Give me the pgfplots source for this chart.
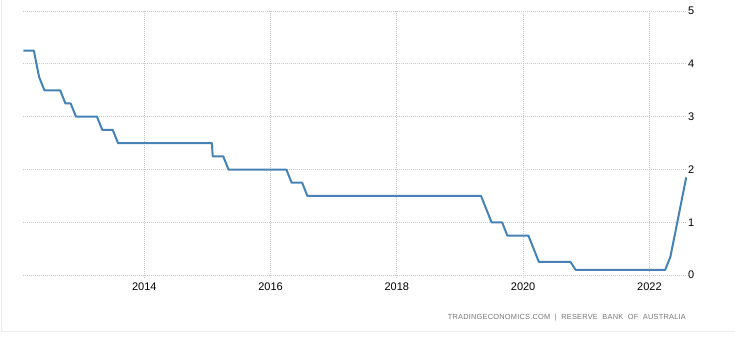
\documentclass[border=0pt]{standalone}
\usepackage{fontspec}
\setmainfont{Liberation Sans}
\newfontfamily\srcfont[LetterSpace=3]{Liberation Sans}
\usepackage{pgfplots}
\pgfplotsset{compat=1.18}
\definecolor{lineblue}{RGB}{70,130,180}
\definecolor{gridgray}{RGB}{200,200,200}
\definecolor{framegray}{RGB}{236,236,236}
\definecolor{srcgray}{RGB}{120,120,120}
\begin{document}
\begin{tikzpicture}
\useasboundingbox (0bp,0bp) rectangle (735bp,344bp);
\fill[white] (0bp,0bp) rectangle (735bp,344bp);
\draw[framegray, line width=1bp] (1bp,344bp) -- (1bp,12bp) -- (735bp,12bp);
\begin{axis}[
  at={(23bp,65.8bp)}, anchor=south west,
  scale only axis, width=663bp, height=267.2bp,
  xmin=2012.078, xmax=2022.58,
  ymin=-0.057, ymax=5,
  axis line style={draw=none},
  major tick length=0pt,
  xtick={2014,2016,2018,2020,2022},
  ytick={0,1,2,3,4,5},
  xticklabel style={font=\fontsize{11bp}{13bp}\selectfont, anchor=north, inner sep=0pt, yshift=-4.5bp},
  yticklabel style={font=\fontsize{11bp}{13bp}\selectfont, anchor=west, inner sep=0pt, xshift=2bp},
  yticklabel pos=right,
  /pgf/number format/assume math mode=true,
  /pgf/number format/1000 sep={},
  xmajorgrids, ymajorgrids,
  grid style={gridgray, line width=0.8bp, dash pattern=on 1bp off 1bp},
  clip=false,
]
\addplot[lineblue, line width=2bp, line join=round] coordinates {
(2012.083,4.25) (2012.25,4.25) (2012.333,3.75) (2012.417,3.5) (2012.667,3.5)
(2012.75,3.25) (2012.833,3.25) (2012.917,3.0) (2013.25,3.0) (2013.333,2.75)
(2013.5,2.75) (2013.583,2.5) (2015.07,2.5) (2015.083,2.25) (2015.25,2.25)
(2015.333,2.0) (2016.25,2.0) (2016.333,1.75) (2016.5,1.75) (2016.583,1.5)
(2019.333,1.5) (2019.5,1.0) (2019.667,1.0) (2019.75,0.75) (2020.083,0.75)
(2020.25,0.25) (2020.75,0.25) (2020.833,0.1) (2022.25,0.1) (2022.333,0.35)
(2022.417,0.85) (2022.5,1.35) (2022.583,1.85)
};
\end{axis}
\node[anchor=east, inner sep=0pt, text=srcgray, font=\srcfont\fontsize{7.4bp}{9bp}\selectfont] at (686bp,26.3bp) {TRADINGECONOMICS.COM \ | \ RESERVE \ BANK \ OF \ AUSTRALIA};
\end{tikzpicture}
\end{document}
